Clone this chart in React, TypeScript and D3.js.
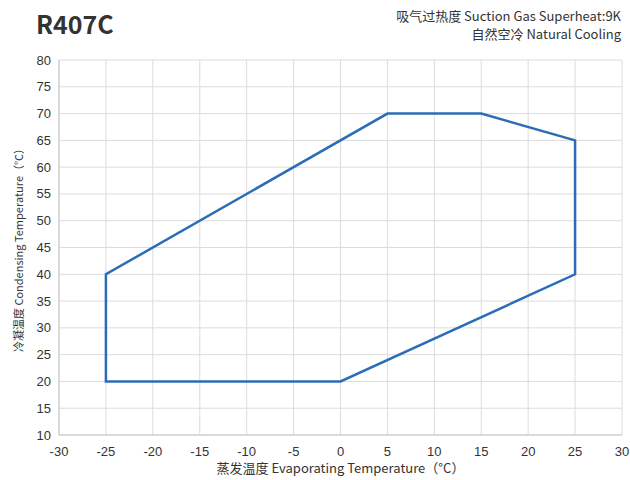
import React from "react";
import * as d3 from "d3";

const evapTemps = [-25, 0, 25, 25, 15, 5, -25];
const condTemps = [20, 20, 40, 65, 70, 70, 40];
const xTicks = d3.range(-30, 31, 5);
const yTicks = d3.range(10, 81, 5);

const W = 630, H = 480;
const L = 59, R = 622, T = 60, B = 435;

export default function App() {
  const x = d3.scaleLinear().domain([-30, 30]).range([L, R]);
  const y = d3.scaleLinear().domain([10, 80]).range([B, T]);
  const pts: [number, number][] = evapTemps.map((e, i) => [e, condTemps[i]]);
  const line = d3.line<[number, number]>().x(d => x(d[0])).y(d => y(d[1])).curve(d3.curveLinearClosed);
  const cjk = "'Noto Sans CJK SC', 'Noto Sans', sans-serif";
  const num = "'Liberation Sans', Arial, sans-serif";
  return (
    <svg width={W} height={H} style={{ position: "absolute", left: 0, top: 0, background: "#fff" }}>
      <rect width={W} height={H} fill="#fff" />
      {xTicks.map(t => (
        <line key={"gx" + t} x1={x(t)} x2={x(t)} y1={T} y2={B} stroke="#dcdcdc" strokeWidth={1} />
      ))}
      {yTicks.map(t => (
        <line key={"gy" + t} x1={L} x2={R} y1={y(t)} y2={y(t)} stroke="#dcdcdc" strokeWidth={1} />
      ))}
      <line x1={L} x2={L} y1={T} y2={B} stroke="#c8c8c8" />
      <line x1={L} x2={R} y1={B} y2={B} stroke="#c8c8c8" />
      {xTicks.map(t => (
        <text key={"tx" + t} x={x(t)} y={456} textAnchor="middle" fontFamily={num} fontSize={13} fill="#333">{t}</text>
      ))}
      {yTicks.map(t => (
        <text key={"ty" + t} x={51} y={y(t) + 4.5} textAnchor="end" fontFamily={num} fontSize={13} fill="#333">{t}</text>
      ))}
      <path d={line(pts) || ""} fill="none" stroke="#2b6cb8" strokeWidth={2.5} strokeLinejoin="miter" />
      <text x={36} y={34} fontFamily={cjk} fontWeight="bold" fontSize={25} fill="#333">R407C</text>
      <text x={621} y={21} textAnchor="end" fontFamily={cjk} fontSize={13} fill="#333">吸气过热度 Suction Gas Superheat:9K</text>
      <text x={621} y={39} textAnchor="end" fontFamily={cjk} fontSize={13} fill="#333">自然空冷  Natural Cooling</text>
      <text x={(L + R) / 2} y={473} textAnchor="middle" fontFamily={cjk} fontSize={13} fill="#333">蒸发温度 Evaporating Temperature（°C）</text>
      <text transform={`translate(23, ${(T + B) / 2}) rotate(-90)`} textAnchor="middle" fontFamily={cjk} fontSize={11} fill="#333">冷凝温度 Condensing Temperature（°C）</text>
    </svg>
  );
}
